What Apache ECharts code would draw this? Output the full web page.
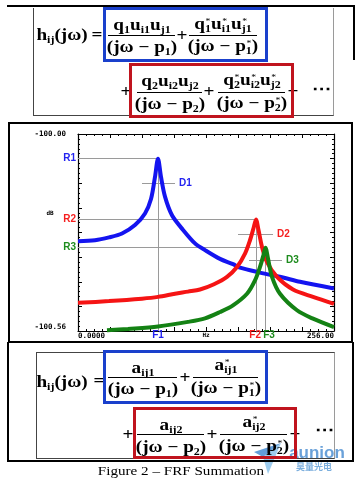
<!DOCTYPE html>
<html><head><meta charset="utf-8">
<script src="https://cdn.jsdelivr.net/npm/echarts@6/dist/echarts.min.js"></script>
<style>
html,body{margin:0;padding:0;background:#fff;}
#wrap{position:relative;width:361px;height:483px;overflow:hidden;background:#fff;}
#chart{position:absolute;left:0;top:0;width:361px;height:483px;z-index:1;}
#over{position:absolute;left:0;top:0;width:361px;height:483px;z-index:2;pointer-events:none;}
.bx{position:absolute;box-sizing:border-box;}
.t{position:absolute;font-family:"Liberation Serif","Times New Roman",serif;font-weight:bold;font-size:16px;line-height:1;white-space:nowrap;transform:translate(-50%,-50%) scaleX(1.2);color:#000;}
.t sub{font-size:10px;vertical-align:-3px;line-height:0;}
.ss{display:inline-block;position:relative;font-size:10px;line-height:10px;vertical-align:-3px;}
.ss .st{position:absolute;left:0.5px;top:-7px;font-size:8px;font-weight:normal;}
.bar{position:absolute;height:1.3px;background:#000;}
.cap{position:absolute;font-family:"Liberation Serif","Times New Roman",serif;font-size:12.6px;line-height:1;white-space:nowrap;transform:translate(-50%,-50%) scaleX(1.2);color:#000;}
</style></head>
<body>
<div id="wrap">
<div id="chart"></div>
<div id="over"></div>
</div>
<script>
// ---- chart data ----
const blueFreq  = [0, 17, 31, 44, 57, 67, 73, 77, 80, 83, 87, 94, 104, 117, 127, 142, 155, 162, 182, 205, 222, 256];
const blueLevel = [25.5, 25.8, 26.6, 27.7, 30.1, 33.4, 37.5, 43.8, 49.0, 43.8, 38.2, 32.9, 29.1, 24.9, 23.0, 20.5, 19.0, 18.0, 16.6, 15.2, 14.0, 12.1];
const redFreq   = [0, 31, 64, 80, 97, 110, 122, 136, 149, 159, 167, 172, 175.5, 178, 180.5, 184, 189, 199, 215, 235, 256];
const redLevel  = [8.0, 8.5, 9.2, 9.7, 10.6, 11.2, 11.8, 13.3, 15.4, 18.2, 22.0, 25.8, 29.2, 31.7, 28.7, 23.9, 19.6, 15.4, 11.8, 9.7, 7.7];
const greenFreq = [29, 50, 80, 110, 127, 142, 155, 169, 177, 182, 185.5, 187.5, 190, 194, 202, 219, 235, 256];
const greenLevel= [0.2, 0.6, 1.3, 2.6, 3.6, 5.4, 7.3, 10.6, 14.4, 18.2, 21.6, 23.7, 20.6, 15.4, 10.6, 5.9, 3.5, 1.1];
const peakNames = ['1', '2', '3'];
const peakFreq  = [80, 178, 187.5];
const peakLevel = [49.0, 31.7, 23.7];
const dLevel    = [42.1, 27.4, 20.0];
const dFrom     = [64, 160, 171];
const dTo       = [97, 195, 204];
const xTickLabels = ['0.0000', '256.00'];
const yTickLabels = ['-100.56', '-100.00'];
const xUnit = 'Hz', yUnit = 'dB';

const modeColors = ['#1414f0', '#f51414', '#148214'];
const labelColors = ['#2323f0', '#f51e1e', '#1e8c1e'];

const chart = echarts.init(document.getElementById('chart'), null, {renderer: 'canvas'});
const XMIN = 0, XMAX = 256, YMIN = 0, YMAX = 56;

const refSegs = [];
for (let i = 0; i < peakFreq.length; i++) {
  refSegs.push({coords: [[XMIN, peakLevel[i]], [peakFreq[i], peakLevel[i]]]});
  refSegs.push({coords: [[peakFreq[i], peakLevel[i]], [peakFreq[i], YMIN]]});
  refSegs.push({coords: [[dFrom[i], dLevel[i]], [dTo[i], dLevel[i]]]});
}
const tickFont = {fontFamily: 'DejaVu Sans Mono', fontSize: 7.5, fontWeight: 'bold', color: '#000'};
function xAx(pos, labels) {
  return {
    type: 'value', min: XMIN, max: XMAX, interval: 32, position: pos,
    axisLine: {show: true, onZero: false, lineStyle: {color: '#000', width: 1.2}},
    axisTick: {show: true, inside: true, length: 4, lineStyle: {color: '#000', width: 1}},
    minorTick: {show: true, splitNumber: 4, length: 2, lineStyle: {color: '#000', width: 1}},
    splitLine: {show: false},
    axisLabel: labels ? Object.assign({
      show: true, margin: 1.5, showMinLabel: true, showMaxLabel: true,
      alignMinLabel: 'left', alignMaxLabel: 'right',
      formatter: v => v === XMIN ? xTickLabels[0] : (v === XMAX ? xTickLabels[1] : '')
    }, tickFont) : {show: false}
  };
}
function yAx(pos, labels) {
  return {
    type: 'value', min: YMIN, max: YMAX, interval: 7, position: pos,
    axisLine: {show: true, onZero: false, lineStyle: {color: '#000', width: 1.2}},
    axisTick: {show: true, inside: true, length: 4, lineStyle: {color: '#000', width: 1}},
    minorTick: {show: true, splitNumber: 5, length: 2, lineStyle: {color: '#000', width: 1}},
    splitLine: {show: false},
    axisLabel: labels ? Object.assign({
      show: true, margin: 12, showMinLabel: true, showMaxLabel: true,
      verticalAlignMinLabel: 'bottom',
      formatter: v => v === YMIN ? yTickLabels[0] : (v === YMAX ? yTickLabels[1] : '')
    }, tickFont) : {show: false}
  };
}
function curve(fr, lv, color) {
  return {
    type: 'line', data: fr.map((f, i) => [f, lv[i]]), showSymbol: false, symbol: 'none',
    smooth: 0.3, lineStyle: {color: color, width: 4}, z: 3, silent: true, animation: false
  };
}
chart.setOption({
  animation: false,
  grid: {left: 78, right: 27, top: 134, bottom: 152, containLabel: false},
  xAxis: [xAx('bottom', true), xAx('top', false)],
  yAxis: [yAx('left', true), yAx('right', false)],
  series: [
    {type: 'lines', coordinateSystem: 'cartesian2d', data: refSegs, silent: true, z: 2,
     lineStyle: {color: '#9a9a9a', width: 1, opacity: 1}, animation: false},
    curve(blueFreq, blueLevel, modeColors[0]),
    curve(redFreq, redLevel, modeColors[1]),
    curve(greenFreq, greenLevel, modeColors[2])
  ]
});

// annotations positioned from data through the chart's scales
const g = [];
const lblFont = 'bold 10px "Liberation Sans", Arial, sans-serif';
const fShift = [0, -0.8, 3.6];
for (let i = 0; i < peakFreq.length; i++) {
  const pr = chart.convertToPixel({gridIndex: 0}, [XMIN, peakLevel[i]]);
  g.push({type: 'text', x: pr[0] - 2, y: pr[1], style: {text: 'R' + peakNames[i], font: lblFont, fill: labelColors[i], align: 'right', verticalAlign: 'middle'}, z: 10});
  const pd = chart.convertToPixel({gridIndex: 0}, [dTo[i], dLevel[i]]);
  g.push({type: 'text', x: pd[0] + 4, y: pd[1], style: {text: 'D' + peakNames[i], font: lblFont, fill: labelColors[i], align: 'left', verticalAlign: 'middle'}, z: 10});
  const pf = chart.convertToPixel({gridIndex: 0}, [peakFreq[i], YMIN]);
  g.push({type: 'text', x: pf[0] + fShift[i], y: pf[1] + 4.5, style: {text: 'F' + peakNames[i], font: lblFont, fill: labelColors[i], align: 'center', verticalAlign: 'middle'}, z: 10});
}
const pdb = chart.convertToPixel({gridIndex: 0}, [XMIN, 33.5]);
g.push({type: 'text', x: pdb[0] - 28, y: pdb[1], style: {text: yUnit, font: 'bold 6px "DejaVu Sans Mono"', fill: '#000', align: 'center', verticalAlign: 'middle'}, z: 10});
const phz = chart.convertToPixel({gridIndex: 0}, [(XMIN + XMAX) / 2, YMIN]);
g.push({type: 'text', x: phz[0], y: phz[1] + 4.5, style: {text: xUnit, font: 'bold 6px "DejaVu Sans Mono"', fill: '#000', align: 'center', verticalAlign: 'middle'}, z: 10});
// watermark logo
g.push({type: 'polygon', shape: {points: [[254, 452], [281, 443], [263, 457]]}, style: {fill: 'rgba(70,140,210,0.85)'}, z: 20});
g.push({type: 'polygon', shape: {points: [[263, 457], [281, 443], [268, 474]]}, style: {fill: 'rgba(140,195,235,0.85)'}, z: 20});
g.push({type: 'text', x: 317, y: 453, style: {text: 'aunion', font: 'bold 17px "Liberation Sans", Arial, sans-serif', fill: 'rgba(80,145,210,0.85)', align: 'center', verticalAlign: 'middle'}, z: 20});
g.push({type: 'text', x: 314, y: 467, style: {text: '昊量光电', font: 'bold 9px "Noto Sans CJK SC"', fill: 'rgba(100,160,215,0.85)', align: 'center', verticalAlign: 'middle'}, z: 20});
chart.setOption({graphic: {elements: g}});

// ---- surrounding formula panels (HTML text) ----
const over = document.getElementById('over');
function box(x1, y1, x2, y2, css) {
  const d = document.createElement('div'); d.className = 'bx';
  d.style.left = x1 + 'px'; d.style.top = y1 + 'px';
  d.style.width = (x2 - x1) + 'px'; d.style.height = (y2 - y1) + 'px';
  d.style.cssText += css; over.appendChild(d); return d;
}
function T(html, cx, cy, cls) {
  const d = document.createElement('div'); d.className = cls || 't';
  d.innerHTML = html; d.style.left = cx + 'px'; d.style.top = cy + 'px';
  over.appendChild(d); return d;
}
function bar(x1, x2, y) {
  const d = document.createElement('div'); d.className = 'bar';
  d.style.left = x1 + 'px'; d.style.width = (x2 - x1) + 'px'; d.style.top = y + 'px';
  over.appendChild(d);
}
function frac(x1, x2, y, num, den, ny, dy) {
  bar(x1, x2, y);
  T(num, (x1 + x2) / 2, ny);
  T(den, (x1 + x2) / 2, dy);
}
const S = s => '<span class="ss">' + s + '<span class="st">*</span></span>';
const sb = s => '<sub>' + s + '</sub>';
const lhs = 'h' + sb('ij') + '(jω)';
const den = (n, star) => '(jω − p' + (star ? S(n) : sb(n)) + ')';

// top panel
box(7, 5, 355, 7, 'background:#000;');
box(353, 5, 355, 60, 'background:#000;');
box(33, 8, 334, 116, 'border-left:1px solid #444;border-bottom:1px solid #444;border-right:1.5px solid #9a9a9a;');
T(lhs, 62, 35); T('=', 97, 35);
frac(108, 175, 35, 'q' + sb('1') + 'u' + sb('i1') + 'u' + sb('j1'), den('1', false), 25, 47);
T('+', 182, 36);
frac(189, 257, 35, 'q' + S('1') + 'u' + S('i1') + 'u' + S('j1'), den('1', true), 25, 47);
T('+', 126, 92);
frac(137, 202, 91.5, 'q' + sb('2') + 'u' + sb('i2') + 'u' + sb('j2'), den('2', false), 81, 103.5);
T('+', 208.5, 92);
frac(218, 285, 91.5, 'q' + S('2') + 'u' + S('i2') + 'u' + S('j2'), den('2', true), 81, 103.5);
T('+', 293, 92);
T('⋯', 322, 89);
box(103, 7, 268, 62, 'border:3.5px solid #1a40cc;');
box(129, 63, 294, 118, 'border:3.5px solid #c0141e;');

// chart frame
box(8, 122, 353, 343, 'border:2px solid #000;');

// bottom panel
box(7, 342, 9, 462, 'background:#000;');
box(352, 342, 354, 462, 'background:#000;');
box(7, 460, 354, 462, 'background:#000;');
box(36, 352, 335, 459, 'border-left:1px solid #444;border-top:1px solid #444;border-bottom:1px solid #444;border-right:1.5px solid #9a9a9a;');
T(lhs, 62, 382); T('=', 99, 381);
frac(108, 177, 376.5, 'a' + sb('ij1'), den('1', false), 368, 389);
T('+', 185, 378);
frac(193, 258, 376.5, 'a' + S('ij1'), den('1', true), 366, 389);
T('+', 128, 435);
frac(137, 204, 434, 'a' + sb('ij2'), den('2', false), 425, 447);
T('+', 212, 435);
frac(220, 287, 434, 'a' + S('ij2'), den('2', true), 423, 447);
T('+', 295, 435);
T('⋯', 324.5, 430);
box(103, 350, 268, 404, 'border:3.5px solid #1a40cc;');
box(133, 407, 297, 459, 'border:3.5px solid #c0141e;');
T('Figure 2 – FRF Summation', 181, 471, 'cap');
</script>
</body></html>
